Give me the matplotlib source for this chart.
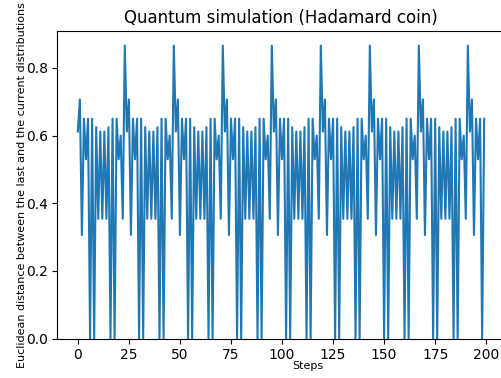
import matplotlib
matplotlib.use('Agg')
import matplotlib.pyplot as plt

# distancia euclidiana entre distribuciones consecutivas
distances = [
    0.612, 0.707, 0.306, 0.650, 0.530, 0.650, 0.0, 0.650, 0.0, 0.625, 0.354, 0.612,
    0.354, 0.612, 0.354, 0.625, 0.0, 0.650, 0.0, 0.650, 0.530, 0.600, 0.354, 0.866,
    0.612, 0.707, 0.306, 0.650, 0.530, 0.650, 0.0, 0.650, 0.0, 0.625, 0.354, 0.612,
    0.354, 0.612, 0.354, 0.625, 0.0, 0.650, 0.0, 0.650, 0.530, 0.600, 0.354, 0.866,
    0.612, 0.707, 0.306, 0.650, 0.530, 0.650, 0.0, 0.650, 0.0, 0.625, 0.354, 0.612,
    0.354, 0.612, 0.354, 0.625, 0.0, 0.650, 0.0, 0.650, 0.530, 0.600, 0.354, 0.866,
    0.612, 0.707, 0.306, 0.650, 0.530, 0.650, 0.0, 0.650, 0.0, 0.625, 0.354, 0.612,
    0.354, 0.612, 0.354, 0.625, 0.0, 0.650, 0.0, 0.650, 0.530, 0.600, 0.354, 0.866,
    0.612, 0.707, 0.306, 0.650, 0.530, 0.650, 0.0, 0.650, 0.0, 0.625, 0.354, 0.612,
    0.354, 0.612, 0.354, 0.625, 0.0, 0.650, 0.0, 0.650, 0.530, 0.600, 0.354, 0.866,
    0.612, 0.707, 0.306, 0.650, 0.530, 0.650, 0.0, 0.650, 0.0, 0.625, 0.354, 0.612,
    0.354, 0.612, 0.354, 0.625, 0.0, 0.650, 0.0, 0.650, 0.530, 0.600, 0.354, 0.866,
    0.612, 0.707, 0.306, 0.650, 0.530, 0.650, 0.0, 0.650, 0.0, 0.625, 0.354, 0.612,
    0.354, 0.612, 0.354, 0.625, 0.0, 0.650, 0.0, 0.650, 0.530, 0.600, 0.354, 0.866,
    0.612, 0.707, 0.306, 0.650, 0.530, 0.650, 0.0, 0.650, 0.0, 0.625, 0.354, 0.612,
    0.354, 0.612, 0.354, 0.625, 0.0, 0.650, 0.0, 0.650, 0.530, 0.600, 0.354, 0.866,
    0.612, 0.707, 0.306, 0.650, 0.530, 0.650, 0.0, 0.650,
]
steps = list(range(len(distances)))

fig = plt.figure(figsize=(5.02, 3.78), dpi=100)
ax = fig.add_axes([57.5 / 502, 39.5 / 378, 447 / 502, 307.5 / 378])

ax.plot(steps, distances)
ax.set_ylim(bottom=0)

ax.set_title("Quantum simulation (Hadamard coin)")
ax.set_xlabel("Steps", fontsize=8, labelpad=-1, x=0.56)
ax.set_ylabel("Euclidean distance between the last and the current distributions",
              fontsize=8, labelpad=-1)

fig.savefig("out.png", dpi=100)
